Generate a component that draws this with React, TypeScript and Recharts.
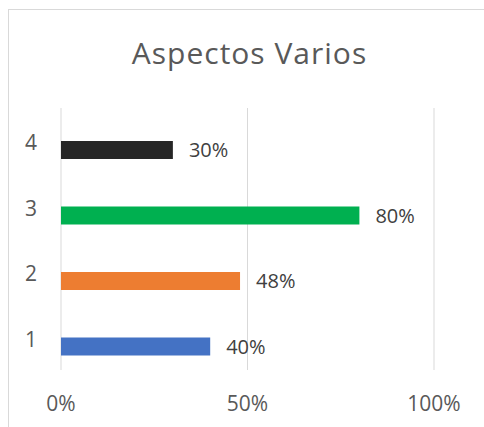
import { BarChart, Bar, XAxis, YAxis, CartesianGrid, LabelList, Cell } from "recharts";

// Chart values
const categories = ["1", "2", "3", "4"];
const values = [0.4, 0.48, 0.8, 0.3];
const barColors = ["#4472C4", "#ED7D31", "#00B050", "#262626"];
const xTicks = [0, 0.5, 1];

const data = categories.map((c, i) => ({ categoria: c, valor: values[i], vacio: null }));

const pct = (v: unknown): string =>
  typeof v === "number" ? `${Math.round(v * 100)}%` : String(v);

// keep the page exactly the size of the window (no scrollbar)
document.body.style.margin = "8px 0 0 8px";

export default function App() {
  return (
    <div
      style={{
        position: "relative",
        width: 475,
        height: 417,
        marginTop: 1,
        borderTop: "1px solid #D9D9D9",
        borderLeft: "1px solid #D9D9D9",
        background: "#FFFFFF",
        fontFamily: "'Open Sans', sans-serif",
      }}
    >
      <div
        style={{
          position: "absolute",
          top: 28,
          left: 0,
          width: 475,
          paddingLeft: 6,
          boxSizing: "border-box",
          textAlign: "center",
          fontSize: 30,
          lineHeight: "30px",
          letterSpacing: 1,
          color: "#595959",
        }}
      >
        Aspectos Varios
      </div>
      <BarChart
        width={475}
        height={417}
        data={data}
        layout="vertical"
        margin={{ top: 98, right: 50, left: 0, bottom: 17 }}
        barSize={18}
        barGap={1}
      >
        <CartesianGrid horizontal={false} stroke="#D9D9D9" strokeWidth={1} />
        <XAxis
          type="number"
          domain={[0, 1]}
          ticks={xTicks}
          tickFormatter={pct}
          axisLine={false}
          tickLine={false}
          tickSize={0}
          tickMargin={26}
          height={40}
          tick={{ fontSize: 21, fill: "#595959" }}
        />
        <YAxis
          type="category"
          dataKey="categoria"
          reversed
          width={52}
          axisLine={false}
          tickLine={false}
          tickSize={0}
          tickMargin={24}
          tick={{ fontSize: 21, fill: "#595959", dy: 2 }}
        />
        <Bar dataKey="vacio" fill="none" isAnimationActive={false} />
        <Bar dataKey="valor" isAnimationActive={false}>
          {data.map((d, i) => (
            <Cell key={d.categoria} fill={barColors[i]} />
          ))}
          <LabelList
            dataKey="valor"
            position="right"
            offset={16}
            formatter={pct}
            style={{ fontSize: 20, fill: "#404040" }}
          />
        </Bar>
      </BarChart>
    </div>
  );
}
